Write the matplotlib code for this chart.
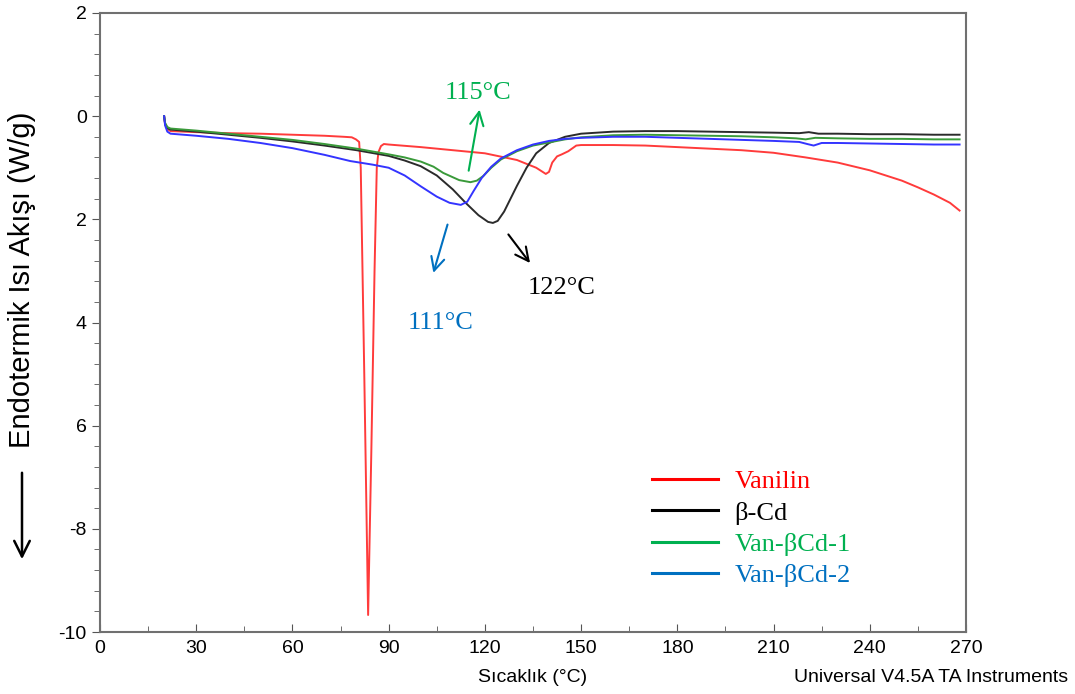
import matplotlib.pyplot as plt
from matplotlib.ticker import MultipleLocator
from matplotlib.lines import Line2D

# data (x: temperature in C, y: heat flow W/g)
van_t = [20, 20.3, 21, 22, 30, 40, 50, 60, 70, 76, 78.5, 79.8, 80.8, 81.3, 82.4, 83.6,
         84.6, 85.6, 86.3, 86.8, 87.6, 88.5, 90, 100, 110, 120, 130, 136, 139, 140, 141,
         142.5, 144, 146, 148.5, 150, 160, 170, 180, 190, 200, 210, 220, 230, 240, 250,
         255, 260, 265, 268]
van_y = [0, -0.15, -0.25, -0.29, -0.31, -0.33, -0.34, -0.36, -0.38, -0.40, -0.41, -0.45,
         -0.5, -1.0, -5.0, -9.67, -6.5, -3.0, -1.0, -0.7, -0.58, -0.54, -0.55, -0.6, -0.66,
         -0.72, -0.85, -1.0, -1.12, -1.08, -0.9, -0.78, -0.74, -0.68, -0.57, -0.56, -0.56,
         -0.57, -0.6, -0.63, -0.66, -0.71, -0.8, -0.9, -1.05, -1.25, -1.38, -1.52, -1.68, -1.83]

cd_t = [20, 20.3, 21, 22, 30, 40, 50, 60, 70, 80, 90, 95, 100, 105, 110, 114, 118, 121,
        122.5, 124, 126, 128, 130, 133, 136, 140, 145, 150, 160, 170, 180, 190, 200, 210,
        218, 221, 224, 230, 240, 250, 260, 268]
cd_y = [0, -0.15, -0.23, -0.26, -0.3, -0.36, -0.42, -0.49, -0.57, -0.66, -0.77, -0.86,
        -0.97, -1.15, -1.42, -1.68, -1.92, -2.05, -2.07, -2.03, -1.85, -1.6, -1.35, -1.0,
        -0.72, -0.52, -0.40, -0.34, -0.30, -0.29, -0.29, -0.30, -0.31, -0.32, -0.33, -0.31,
        -0.34, -0.34, -0.35, -0.35, -0.36, -0.36]

v1_t = [20, 20.3, 21, 22, 30, 40, 50, 60, 70, 80, 90, 95, 100, 104, 107, 112, 115.5, 117.5,
        119.5, 122, 125, 130, 135, 140, 145, 150, 160, 170, 180, 190, 200, 210, 217, 220,
        223, 230, 240, 250, 260, 268]
v1_y = [0, -0.13, -0.21, -0.24, -0.28, -0.34, -0.4, -0.46, -0.54, -0.63, -0.74, -0.8,
        -0.88, -0.98, -1.1, -1.24, -1.28, -1.25, -1.16, -1.0, -0.84, -0.68, -0.57, -0.51,
        -0.45, -0.41, -0.37, -0.36, -0.37, -0.38, -0.39, -0.41, -0.43, -0.45, -0.42, -0.43,
        -0.44, -0.44, -0.45, -0.45]

v2_t = [20, 20.3, 21, 22, 30, 40, 50, 60, 70, 78, 85, 90, 95, 100, 105, 109, 112.5, 114.5,
        116.5, 119, 122, 125, 130, 135, 140, 145, 150, 160, 170, 180, 190, 200, 210, 218,
        220.5, 222.5, 225, 230, 240, 250, 260, 268]
v2_y = [0, -0.18, -0.3, -0.34, -0.38, -0.44, -0.52, -0.62, -0.75, -0.87, -0.94, -1.0,
        -1.15, -1.36, -1.56, -1.68, -1.72, -1.66, -1.45, -1.2, -0.98, -0.82, -0.66, -0.55,
        -0.48, -0.44, -0.42, -0.40, -0.40, -0.42, -0.44, -0.46, -0.48, -0.50, -0.54, -0.57,
        -0.52, -0.52, -0.53, -0.54, -0.55, -0.55]

names = ['Vanilin', 'β-Cd', 'Van-βCd-1', 'Van-βCd-2']
curve_colors = ['#ff3b3b', '#2b2b2b', '#3a9a3a', '#3434ff']
key_colors = ['#ff0000', '#000000', '#00b050', '#0070c0']

x_ticks = [0, 30, 60, 90, 120, 150, 180, 210, 240, 270]
y_ticks = [2, 0, -2, -4, -6, -8, -10]
y_labels = ['2', '0', '2', '4', '6', '-8', '-10']

fig = plt.figure(figsize=(10.75, 6.94), dpi=100)
ax = fig.add_axes([0.093, 0.0893, 0.8056, 0.892])

series = [(van_t, van_y), (cd_t, cd_y), (v1_t, v1_y), (v2_t, v2_y)]
for (t, y), c in zip(series, curve_colors):
    ax.plot(t, y, color=c, lw=1.4)

ax.set_xlim(0, 270)
ax.set_ylim(-10, 2)
ax.set_xticks(x_ticks)
ax.set_yticks(y_ticks)
ax.set_yticklabels(y_labels)
ax.xaxis.set_minor_locator(MultipleLocator(15))
ax.yaxis.set_minor_locator(MultipleLocator(0.4))
for s in ax.spines.values():
    s.set_color('#707070')
    s.set_linewidth(1.5)
ax.tick_params(axis='x', which='both', direction='in', color='#555555')
ax.tick_params(axis='x', which='major', length=6, labelsize=14, pad=6)
ax.tick_params(axis='x', which='minor', length=4)
ax.tick_params(axis='y', which='both', direction='out', color='#555555')
ax.tick_params(axis='y', which='major', length=6, labelsize=14)
ax.tick_params(axis='y', which='minor', length=4)
for lab in ax.get_xticklabels() + ax.get_yticklabels():
    lab.set_family('Liberation Sans')

# peak annotations
serif = 'Liberation Serif'
arr = dict(arrowstyle='->', lw=1.5, mutation_scale=24)
ax.annotate('', xy=(118.5, 0.18), xytext=(114.8, -1.11), arrowprops=dict(arr, color='#00b050'))
ax.text(118, 0.45, '115°C', color='#00b050', fontsize=19, family=serif, ha='center', va='center')
ax.annotate('', xy=(103.7, -3.09), xytext=(108.6, -2.05), arrowprops=dict(arr, color='#0070c0'))
ax.text(106.3, -4.0, '111°C', color='#0070c0', fontsize=19, family=serif, ha='center', va='center')
ax.annotate('', xy=(134.6, -2.89), xytext=(126.8, -2.25), arrowprops=dict(arr, color='black'))
ax.text(144, -3.34, '122°C', color='black', fontsize=19, family=serif, ha='center', va='center')

handles = [Line2D([], [], color=c, lw=2.2) for c in key_colors]
ax.legend(handles, names, loc='upper left', bbox_to_anchor=(0.638, 0.262), frameon=False,
          labelcolor=key_colors, prop={'family': serif, 'size': 19}, handlelength=2.5,
          labelspacing=0.3, handletextpad=0.6, borderpad=0, borderaxespad=0)

fig.text(533 / 1075, 1 - 678 / 694, 'Sıcaklık (°C)', ha='center', va='center', fontsize=14,
         family='Liberation Sans')
fig.text(1068 / 1075, 1 - 678 / 694, 'Universal V4.5A TA Instruments', ha='right', va='center',
         fontsize=14, family='Liberation Sans')

fig.text(22 / 1075, 1 - 280 / 694, 'Endotermik Isı Akışı (W/g)', rotation=90, ha='center',
         va='center', fontsize=21, family='Liberation Sans')
ax.annotate('', xy=(22 / 1075, 1 - 562 / 694), xytext=(22 / 1075, 1 - 470 / 694),
            xycoords='figure fraction', textcoords='figure fraction',
            arrowprops=dict(arrowstyle='->', lw=1.8, mutation_scale=28, color='black'))

fig.savefig('out.png', dpi=100)
